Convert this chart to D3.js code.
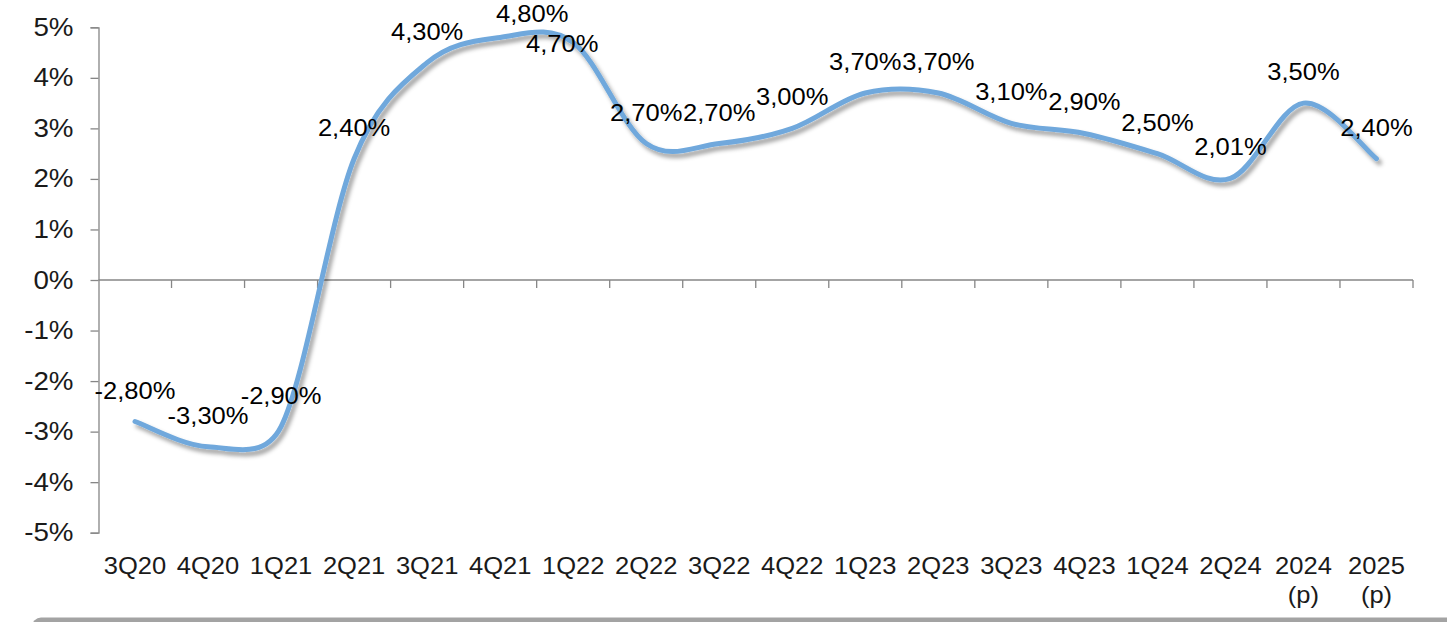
<!DOCTYPE html>
<html>
<head>
<meta charset="utf-8">
<script src="https://cdn.jsdelivr.net/npm/d3@7"></script>
<style>
  html, body { margin: 0; padding: 0; background: #fff; }
  svg { display: block; font-family: "Liberation Sans", Arial, sans-serif; }
</style>
</head>
<body>
<svg id="chart" width="1447" height="622"></svg>
<script>
// ---- data ----
const categories = ["3Q20","4Q20","1Q21","2Q21","3Q21","4Q21","1Q22","2Q22","3Q22","4Q22","1Q23","2Q23","3Q23","4Q23","1Q24","2Q24","2024\n(p)","2025\n(p)"];
const growth = [-2.8,-3.3,-2.9,2.4,4.3,4.8,4.7,2.7,2.7,3.0,3.7,3.7,3.1,2.9,2.5,2.01,3.5,2.4];
const yTicks = [-5,-4,-3,-2,-1,0,1,2,3,4,5];

// label placement tweaks (manually moved labels in the original)
const labelShift = { "4Q21": [32, 8], "1Q22": [-11, 33] };

(function () {
const mLeft = 98.5, mRight = 1413, mTop = 27.3, mBottom = 532.7;
const SX = 1.11; // horizontal stretch of the original's text

const svg = d3.select("#chart");

const defs = svg.append("defs");
const f = defs.append("filter").attr("id","shadow").attr("x","-10%").attr("y","-10%").attr("width","120%").attr("height","130%");
f.append("feDropShadow").attr("dx",3).attr("dy",4).attr("stdDeviation",2.2).attr("flood-color","#000").attr("flood-opacity",0.38);

const x = d3.scaleBand().domain(categories).range([mLeft, mRight]).padding(0);
const y = d3.scaleLinear().domain([-5,5]).range([mBottom, mTop]);
const cx = c => x(c) + x.bandwidth()/2;

const axisColor = "#868686";
const textColor = "#1a1a1a";

// y axis
const yAxis = d3.axisLeft(y).tickValues(yTicks).tickSize(8).tickPadding(17)
  .tickFormat(d => d + "%");
const gy = svg.append("g").attr("transform", `translate(${mLeft},0)`).call(yAxis);
gy.select(".domain").attr("stroke", axisColor).attr("stroke-width", 1.3);
gy.selectAll(".tick line").attr("stroke", axisColor).attr("stroke-width", 1.3);
gy.selectAll(".tick text").each(function () {
  const t = d3.select(this);
  const xx = +t.attr("x");
  t.attr("x", null).attr("transform", `translate(${xx},0) scale(${SX},1)`);
}).attr("font-size", 25).attr("fill", textColor)
  .attr("font-family", '"Liberation Sans", Arial, sans-serif');

// x axis at zero: line + category boundary ticks
const gx = svg.append("g");
gx.append("line").attr("x1", mLeft).attr("x2", mRight).attr("y1", y(0)).attr("y2", y(0))
  .attr("stroke", axisColor).attr("stroke-width", 1.3);
const bounds = categories.map(c => x(c)).concat([x(categories[categories.length-1]) + x.bandwidth()]);
gx.selectAll("line.tk").data(bounds.slice(1)).join("line").attr("class","tk")
  .attr("x1", d => d).attr("x2", d => d).attr("y1", y(0)).attr("y2", y(0) + 8)
  .attr("stroke", axisColor).attr("stroke-width", 1.3);

// category labels (low position)
const xl = svg.append("g").selectAll("text").data(categories).join("text")
  .attr("transform", d => `translate(${cx(d)},574) scale(${SX},1)`)
  .attr("text-anchor", "middle").attr("font-size", 23).attr("fill", textColor);
xl.each(function(d) {
  const parts = d.split("\n");
  const t = d3.select(this);
  parts.forEach((p, i) => t.append("tspan").attr("x", 0).attr("dy", i === 0 ? 0 : 29).text(p));
});

// line: Excel-style smoothing (Bezier, 1/6 tangents capped at half the segment)
const pts = categories.map((c, i) => [cx(c), y(growth[i])]);
function excelSmooth(p) {
  const path = d3.path();
  const dist = (a, b) => Math.hypot(b[0] - a[0], b[1] - a[1]);
  path.moveTo(p[0][0], p[0][1]);
  for (let i = 0; i < p.length - 1; i++) {
    const p0 = p[i - 1] || p[i], p1 = p[i], p2 = p[i + 1], p3 = p[i + 2] || p[i + 1];
    const d12 = dist(p1, p2), d02 = dist(p0, p2), d13 = dist(p1, p3);
    const f1 = (d02 / 6 < d12 / 2 || d02 === 0) ? 1 / 6 : d12 / (2 * d02);
    const f2 = (d13 / 6 < d12 / 2 || d13 === 0) ? 1 / 6 : d12 / (2 * d13);
    const c1 = [p1[0] + (p2[0] - p0[0]) * f1, p1[1] + (p2[1] - p0[1]) * f1];
    const c2 = [p2[0] - (p3[0] - p1[0]) * f2, p2[1] - (p3[1] - p1[1]) * f2];
    path.bezierCurveTo(c1[0], c1[1], c2[0], c2[1], p2[0], p2[1]);
  }
  return path.toString();
}
svg.append("path").attr("d", excelSmooth(pts)).attr("fill", "none")
  .attr("stroke", "#6fa8dc").attr("stroke-width", 5).attr("stroke-linecap", "round")
  .attr("stroke-linejoin", "round").attr("filter", "url(#shadow)");

// data labels
const fmt = v => d3.format(".2f")(v).replace("−", "-").replace(".", ",") + "%";
svg.append("g").selectAll("text").data(categories).join("text")
  .attr("transform", (c, i) => {
    const lx = cx(c) + (labelShift[c] ? labelShift[c][0] : 0);
    const ly = y(growth[i]) - 23 + (labelShift[c] ? labelShift[c][1] : 0);
    return `translate(${lx},${ly}) scale(${SX},1)`;
  })
  .attr("text-anchor", "middle").attr("font-size", 23).attr("fill", "#000")
  .text((c, i) => fmt(growth[i]));

// bottom grey frame edge
svg.append("rect").attr("x", 32).attr("y", 617.5).attr("width", 1440).attr("height", 30)
  .attr("rx", 9).attr("fill", "#a3a3a3");
})();
</script>
</body>
</html>
